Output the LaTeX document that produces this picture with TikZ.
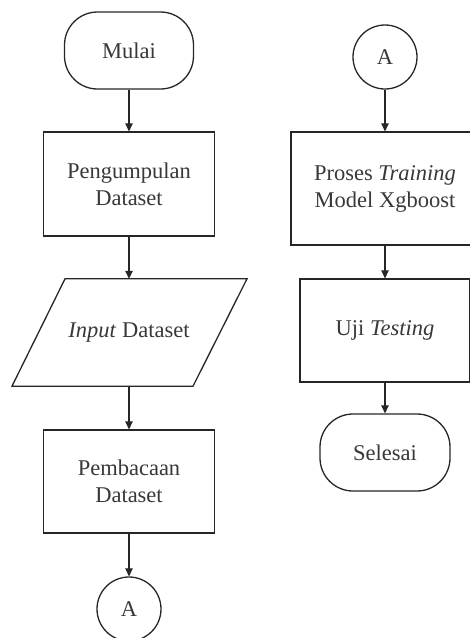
\documentclass[tikz,border=0pt]{standalone}
\usepackage{fontspec}
\setmainfont{Liberation Serif}
\usetikzlibrary{arrows.meta}
\begin{document}
\begin{tikzpicture}[x=1pt,y=-1pt,
    every node/.style={font=\fontsize{22.5}{27}\selectfont, text=black!78, align=center, inner sep=0pt},
    line/.style={draw=black!85, line width=1.3pt},
    terminal/.style={line, rectangle, rounded corners=33pt, minimum width=129pt, minimum height=77pt},
    process/.style={line, rectangle, minimum width=171pt, minimum height=104pt},
    connector/.style={line, circle, minimum size=64pt},
    flow/.style={draw=black!85, line width=1.1pt, -{Triangle[length=8pt,width=7.5pt]}}
  ]
  \useasboundingbox (0,0) rectangle (470,638);
  \clip (0,0) rectangle (470,638);

  % left column
  \node[terminal] (mulai) at (129,50.5) {Mulai};
  \node[process] (kumpul) at (129,184) {Pengumpulan\\Dataset};
  \node[minimum width=182pt, minimum height=107pt] (input) at (129,332.5) {\textit{Input} Dataset};
  \draw[line, line join=miter]
    ([xshift=-64pt]input.north) -- ([xshift=118pt]input.north)
    -- ([xshift=64pt]input.south) -- ([xshift=-117pt]input.south) -- cycle;
  \node[process, minimum height=103pt] (baca) at (129,481.5) {Pembacaan\\Dataset};
  \node[connector] (conA) at (129,609) {A};

  % right column
  \node[connector] (conB) at (385,57) {A};
  \node[process, minimum width=188pt, minimum height=113pt] (proses) at (385,188.5) {Proses \textit{Training}\\Model Xgboost};
  \node[process, minimum width=170pt, minimum height=103pt] (uji) at (385,330.5) {Uji \textit{Testing}};
  \node[terminal, minimum width=130pt] (selesai) at (385,452.5) {Selesai};

  % connectors
  \draw[flow] (mulai) -- (kumpul);
  \draw[flow] (kumpul) -- (input);
  \draw[flow] (input) -- (baca);
  \draw[flow] (baca) -- (conA);
  \draw[flow] (conB) -- (proses);
  \draw[flow] (proses) -- (uji);
  \draw[flow] (uji) -- (selesai);
\end{tikzpicture}
\end{document}
